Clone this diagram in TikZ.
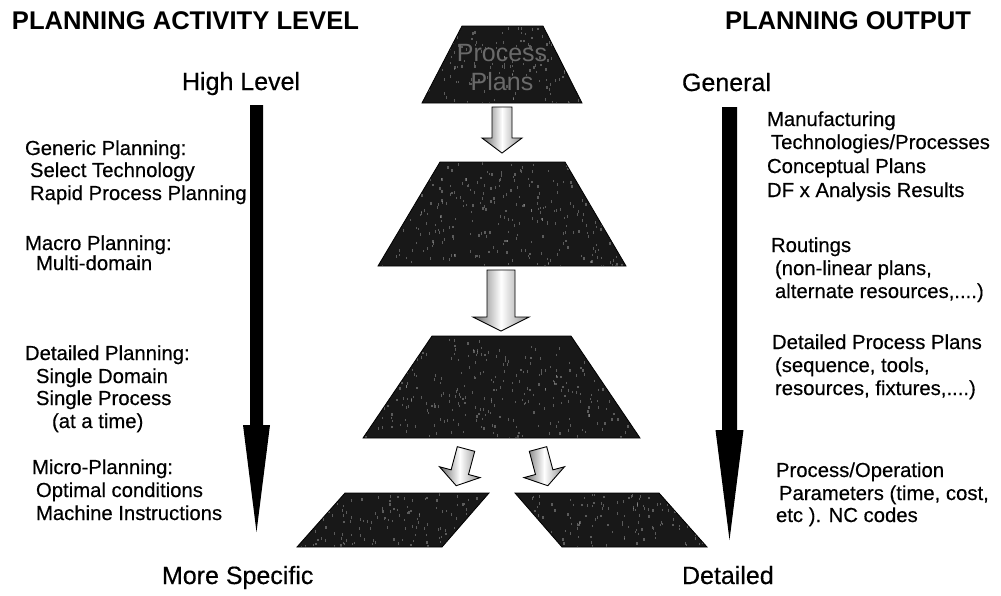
\documentclass[tikz,border=0pt]{standalone}
\usepackage{fontspec}
\setmainfont{Liberation Sans}
\newfontfamily\bodyfont{Liberation Sans}[FakeBold=0.4]
\usetikzlibrary{calc}

\definecolor{slabfill}{HTML}{181818}
\definecolor{slabtext}{HTML}{6A6A6A}

% Block arrow from #2 (middle of the tail) to #3 (tip):
% #1 style, #4 half shaft width, #5 half head width, #6 head length
\newcommand\blockarrow[6]{%
  \coordinate (#2-hb) at ($(#3)!#6!(#2)$);
  \path[#1] ($(#2)!#4!-90:(#3)$) -- ($(#2-hb)!#4!-90:(#3)$)
    -- ($(#2-hb)!#5!-90:(#3)$) -- (#3)
    -- ($(#2-hb)!#5!90:(#3)$) -- ($(#2-hb)!#4!90:(#3)$)
    -- ($(#2)!#4!90:(#3)$) -- cycle;
}

% Dark slab with a grainy surface:
% #1 outline, #2/#3 lower corner of its box, #4/#5 box size, #6 grain count
\newcommand\grainslab[6]{%
  \path[slab] #1;
  \begin{scope}
    \clip #1;
    \foreach \k in {1,...,#6}
      \fill[grain] ({#2+#4*rnd},{#3+#5*rnd}) rectangle ++(1.2,2.6);
  \end{scope}
  \path[slabedge] #1;
}

\begin{document}
\begin{tikzpicture}[x=1pt,y=-1pt,
  txt/.style={anchor=base west, inner sep=0pt, outer sep=0pt},
  body/.style={txt, font=\bodyfont\fontsize{20.3}{23}\selectfont},
  levelword/.style={txt, font=\bodyfont\fontsize{25}{30}\selectfont},
  heading/.style={txt, font=\fontsize{25.6}{30}\selectfont\bfseries},
  slab/.style={fill=slabfill},
  slabedge/.style={draw=black, line width=0.8pt, line join=miter},
  grain/.style={fill=gray!75, opacity=0.5},
  slablabel/.style={anchor=base, inner sep=0pt, text=slabtext, font=\fontsize{25}{28}\selectfont},
  trend/.style={fill=black},
  flow/.style={draw=black, line width=0.9pt, line join=miter,
    left color=black!60, right color=black!45, middle color=white},
]
\useasboundingbox (0,0) rectangle (1001,595);
\pgfmathsetseed{11}

% ---------------- headings ----------------
\node[heading] (hl) at (12,29) {PLANNING ACTIVITY LEVEL};
\node[heading] (hr) at (725,29) {PLANNING OUTPUT};

\node[levelword] (high) at (182,90) {High Level};
\node[levelword] (spec) at (162,584) {More Specific};
\node[levelword] (gen)  at (682,91) {General};
\node[levelword] (det)  at (682,584) {Detailed};

% ---------------- long trend arrows ----------------
\coordinate (la-s) at (256.5,105);
\coordinate (la-t) at (256.5,532);
\blockarrow{trend}{la-s}{la-t}{6.5pt}{13.5pt}{107pt}
\coordinate (ra-s) at (729.5,107);
\coordinate (ra-t) at (729.5,540);
\blockarrow{trend}{ra-s}{ra-t}{7.5pt}{14pt}{110pt}

% ---------------- planning activities ----------------
\node[body] (a1) at (25,155) {Generic Planning:};
\node[body] (a2) at (30,177) {Select Technology};
\node[body] (a3) at (30,200) {Rapid Process Planning};

\node[body] (b1) at (25,250) {Macro Planning:};
\node[body] (b2) at (36,270) {Multi-domain};

\node[body] (c1) at (25,360) {Detailed Planning:};
\node[body] (c2) at (36,383) {Single Domain};
\node[body] (c3) at (36,405) {Single Process};
\node[body] (c4) at (52,428) {(at a time)};

\node[body] (d1) at (32,474) {Micro-Planning:};
\node[body] (d2) at (36,497) {Optimal conditions};
\node[body] (d3) at (36,520) {Machine Instructions};

% ---------------- planning outputs ----------------
\node[body] (o1) at (767,126) {Manufacturing};
\node[body] (o2) at (771,149) {Technologies/Processes};
\node[body] (o3) at (767,173) {Conceptual Plans};
\node[body] (o4) at (767,197) {DF x Analysis Results};

\node[body] (p1) at (771,252) {Routings};
\node[body] (p2) at (775,275) {(non-linear plans,};
\node[body] (p3) at (775,298) {alternate resources,....)};

\node[body] (q1) at (772,349) {Detailed Process Plans};
\node[body] (q2) at (775,372) {(sequence, tools,};
\node[body] (q3) at (775,395) {resources, fixtures,....)};

\node[body] (r1) at (776,477) {Process/Operation};
\node[body] (r2) at (779,500) {Parameters (time, cost,};
\node[body] (r3) at (776,522) {etc ). NC codes};

% ---------------- central pyramid ----------------
\coordinate (t1) at (502,26);
\grainslab{(462,26) -- (543,26) -- (582,103) -- (422,103) -- cycle}{422}{26}{160}{77}{160}
\node[slablabel] (pp1) at (502,61) {Process};
\node[slablabel] (pp2) at (502,90) {Plans};

\coordinate (t2) at (502,162);
\grainslab{(440,162) -- (565,162) -- (626,266) -- (378,266) -- cycle}{378}{162}{248}{104}{330}

\coordinate (t3) at (502,336);
\grainslab{(432,336) -- (571,336) -- (640,438) -- (363,438) -- cycle}{363}{336}{277}{102}{350}

\coordinate (t4) at (417,493);
\grainslab{(345,493) -- (489,493) -- (442,547) -- (297,547) -- cycle}{297}{493}{192}{54}{150}
\coordinate (t5) at (587,493);
\grainslab{(515,493) -- (659,493) -- (707,547) -- (562,547) -- cycle}{515}{493}{192}{54}{150}

% ---------------- flow arrows between levels ----------------
\coordinate (f1-s) at (502,107);
\coordinate (f1-t) at (502,153);
\blockarrow{flow}{f1-s}{f1-t}{10pt}{20pt}{15pt}

\coordinate (f2-s) at (501,270);
\coordinate (f2-t) at (501,331);
\blockarrow{flow}{f2-s}{f2-t}{14pt}{28pt}{14pt}

\coordinate (f3-s) at (466,449);
\coordinate (f3-t) at (456.2,485.7);
\blockarrow{flow}{f3-s}{f3-t}{9pt}{21pt}{14pt}

\coordinate (f4-s) at (538,449);
\coordinate (f4-t) at (547.8,485.7);
\blockarrow{flow}{f4-s}{f4-t}{9pt}{21pt}{14pt}

\end{tikzpicture}
\end{document}
